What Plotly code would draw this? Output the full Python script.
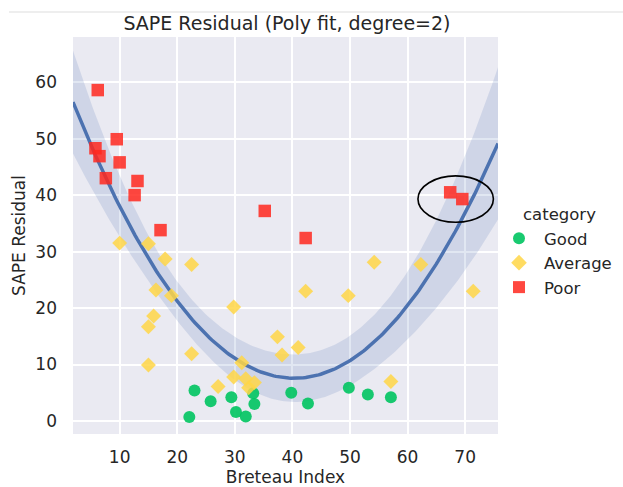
import numpy as np
import plotly.graph_objects as go

# ---- data ----
good_x = [23.0, 25.8, 29.4, 22.1, 30.2, 31.9, 33.2, 33.4, 39.8, 42.7, 49.8, 53.1, 57.1]
good_y = [5.4, 3.5, 4.2, 0.7, 1.6, 0.8, 4.9, 3.0, 5.0, 3.1, 5.9, 4.7, 4.2]

avg_x = [10.0, 15.0, 17.9, 22.5, 16.3, 19.0, 29.8, 15.9, 15.0, 22.5, 15.0, 37.4, 38.2,
         41.0, 42.3, 31.2, 29.8, 31.9, 33.4, 32.4, 27.1, 54.2, 62.3, 49.7, 71.4, 57.1]
avg_y = [31.5, 31.4, 28.7, 27.7, 23.2, 22.2, 20.2, 18.6, 16.7, 11.9, 9.9, 14.9, 11.7,
         13.0, 23.0, 10.3, 7.8, 7.5, 6.8, 5.9, 6.1, 28.1, 27.7, 22.2, 23.0, 7.0]

poor_x = [6.2, 5.8, 6.5, 9.5, 10.0, 7.6, 13.1, 12.6, 17.1, 35.2, 42.3, 67.4, 69.5]
poor_y = [58.6, 48.3, 46.9, 49.9, 45.8, 43.0, 42.5, 40.0, 33.8, 37.2, 32.4, 40.5, 39.3]

x_ticks = [10, 20, 30, 40, 50, 60, 70]
y_ticks = [0, 10, 20, 30, 40, 50, 60]
x_range = [1.9, 75.7]
y_range = [-2.3, 68.0]

# ---- degree-2 polynomial fit with 95% CI ----
X = np.array(good_x + avg_x + poor_x)
Y = np.array(good_y + avg_y + poor_y)
A = np.vstack([np.ones_like(X), X, X**2]).T
beta, *_ = np.linalg.lstsq(A, Y, rcond=None)
resid = Y - A @ beta
n, p = A.shape
s2 = resid @ resid / (n - p)
cov = s2 * np.linalg.inv(A.T @ A)
xs = np.linspace(x_range[0], x_range[1], 200)
As = np.vstack([np.ones_like(xs), xs, xs**2]).T
ys = As @ beta
se = np.sqrt(np.einsum('ij,jk,ik->i', As, cov, As))
t = 2.006
lo, hi = ys - t * se, ys + t * se

blue = "#4C72B0"
fig = go.Figure()
fig.add_trace(go.Scatter(x=np.concatenate([xs, xs[::-1]]), y=np.concatenate([hi, lo[::-1]]),
                         fill="toself", fillcolor="rgba(76,114,176,0.17)", line=dict(width=0),
                         hoverinfo="skip", showlegend=False))
fig.add_trace(go.Scatter(x=xs, y=ys, mode="lines", line=dict(color=blue, width=3.5),
                         showlegend=False))

fig.add_trace(go.Scatter(x=good_x, y=good_y, mode="markers", name="Good",
                         marker=dict(symbol="circle", size=12, color="rgb(0,196,96)",
                                     opacity=0.9, line=dict(width=0))))
fig.add_trace(go.Scatter(x=avg_x, y=avg_y, mode="markers", name="Average",
                         marker=dict(symbol="diamond", size=11.5, color="rgb(255,214,70)",
                                     opacity=0.85, line=dict(width=0))))
fig.add_trace(go.Scatter(x=poor_x, y=poor_y, mode="markers", name="Poor",
                         marker=dict(symbol="square", size=12.5, color="rgb(255,40,30)",
                                     opacity=0.85, line=dict(width=0))))

fig.add_shape(type="circle", xref="x", yref="y", x0=61.8, x1=74.9, y0=35.2, y1=43.4,
              line=dict(color="black", width=1.6))
fig.add_shape(type="line", xref="paper", yref="paper",
              x0=(9 - 73) / 425, x1=(623 - 73) / 425, y0=(434 - 12) / 397, y1=(434 - 12) / 397,
              line=dict(color="#dddddd", width=1))

fig.add_annotation(text="category", xref="paper", yref="paper",
                   x=(559 - 73) / 425, y=(434 - 214) / 397, xanchor="center", yanchor="middle",
                   showarrow=False, font=dict(size=16.5, color="#262626"))

font = "DejaVu Sans"
fig.update_layout(
    width=623, height=487,
    margin=dict(l=73, r=125, t=37, b=53, autoexpand=False),
    paper_bgcolor="white", plot_bgcolor="#EAEAF2",
    font=dict(family=font, size=17, color="#262626"),
    title=dict(text="SAPE Residual (Poly fit, degree=2)", x=287 / 623, xanchor="center",
               y=1 - 23 / 487, yanchor="middle", font=dict(size=19, color="#262626")),
    legend=dict(font=dict(size=16.5), x=(494 - 73) / 425, xanchor="left",
                y=(434 - 221) / 397, yanchor="top", bgcolor="rgba(0,0,0,0)",
                tracegroupgap=0, itemsizing="constant", itemwidth=40),
    showlegend=True,
)
fig.update_xaxes(range=x_range, tickvals=x_ticks, showgrid=True, gridcolor="white", gridwidth=1.5,
                 zeroline=False, showline=False, ticks="", ticklabelstandoff=11, automargin=False,
                 title=dict(text="Breteau Index", font=dict(size=17), standoff=4),
                 tickfont=dict(size=17))
fig.update_yaxes(range=y_range, tickvals=y_ticks, showgrid=True, gridcolor="white", gridwidth=1.5,
                 zeroline=False, showline=False, ticks="", ticklabelstandoff=15, automargin=False,
                 title=dict(text="SAPE Residual", font=dict(size=17), standoff=5),
                 tickfont=dict(size=17))

fig.write_html("out.html")
